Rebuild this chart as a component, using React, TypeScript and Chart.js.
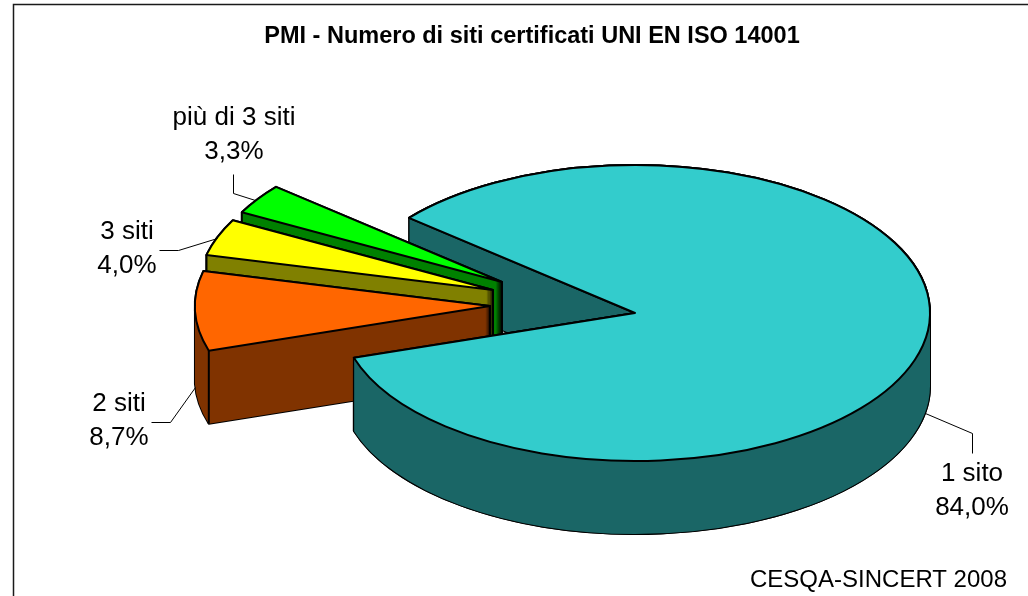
import React, { useEffect, useRef } from "react";
import { Chart, registerables } from "chart.js";

Chart.register(...registerables);

const titleText = "PMI - Numero di siti certificati UNI EN ISO 14001";
const sourceText = "CESQA-SINCERT 2008";
const categories = ["1 sito", "2 siti", "3 siti", "più di 3 siti"];
const shares = [84.0, 8.7, 4.0, 3.3];

const topColors = ["#33CCCC", "#FF6600", "#FFFF00", "#00FF00"];
const wallColors = ["#1A6666", "#803300", "#808000", "#008000"];

const FONT = '"Liberation Sans", Arial, sans-serif';

// Projection of the flat pie onto the tilted 3D view
const view = { cx: 635, cy: 313, rx: 295, ry: 148, depth: 73 };
const explode = [
  [0, 0],
  [-145, -7],
  [-142, -23],
  [-133, -31],
];
const labelBoxes = [
  { x: 972, y1: 474, y2: 508 },
  { x: 119, y1: 404, y2: 438 },
  { x: 127, y1: 232, y2: 266 },
  { x: 234, y1: 118, y2: 152 },
];
const leaders = [
  [[925, 413], [972, 433], [972, 453]],
  [[195, 387], [170, 422], [151, 422]],
  [[217, 238], [178, 250], [159, 250]],
  [[255, 200], [233, 193], [233, 174]],
];

function percent(v: number) {
  return v.toFixed(1).replace(".", ",") + "%";
}

const pie3d = {
  id: "pie3d",
  beforeDraw(chart: any) {
    const ctx = chart.ctx;
    ctx.save();
    ctx.fillStyle = "#FFFFFF";
    ctx.fillRect(0, 0, chart.width, chart.height);
    ctx.strokeStyle = "#1a1a1a";
    ctx.lineWidth = 1.5;
    ctx.strokeRect(13.5, 4.5, 1200, 800);
    ctx.restore();
  },
  beforeDatasetsDraw(chart: any) {
    const ctx = chart.ctx;
    const arcs = chart.getDatasetMeta(0).data;

    const place = (arc: any, i: number, dy: number) => {
      const sx = view.rx / arc.outerRadius;
      const sy = view.ry / arc.outerRadius;
      ctx.translate(view.cx + explode[i][0], view.cy + explode[i][1] + dy);
      ctx.scale(sx, sy);
      ctx.translate(-arc.x, -arc.y);
    };
    const addSector = (arc: any, i: number, dy: number, from: number, to: number) => {
      ctx.save();
      place(arc, i, dy);
      ctx.moveTo(arc.x, arc.y);
      ctx.arc(arc.x, arc.y, arc.outerRadius, from, to);
      ctx.closePath();
      ctx.restore();
    };
    const sweep = (arc: any, i: number, from: number, to: number) => {
      ctx.beginPath();
      for (let dy = view.depth; dy >= 0; dy--) addSector(arc, i, dy, from, to);
      ctx.stroke();
      ctx.fillStyle = wallColors[i];
      ctx.fill("nonzero");
    };
    const edge = (arc: any, i: number, angle: number | null) => {
      const sx = view.rx / arc.outerRadius;
      const sy = view.ry / arc.outerRadius;
      const r = angle === null ? 0 : arc.outerRadius;
      const a = angle === null ? 0 : angle;
      const px = view.cx + explode[i][0] + Math.cos(a) * r * sx;
      const py = view.cy + explode[i][1] + Math.sin(a) * r * sy;
      ctx.beginPath();
      ctx.moveTo(px, py);
      ctx.lineTo(px, py + view.depth);
      ctx.stroke();
    };
    const outline = (arc: any, i: number) => {
      ctx.beginPath();
      addSector(arc, i, 0, arc.startAngle, arc.endAngle);
      ctx.stroke();
    };
    const top = (arc: any, i: number) => {
      ctx.save();
      place(arc, i, 0);
      arc.draw(ctx);
      ctx.restore();
      outline(arc, i);
    };

    ctx.save();
    ctx.strokeStyle = "#000000";
    ctx.lineWidth = 2;
    ctx.lineJoin = "round";

    // back part of the big slice: its cut face stays behind the small slices
    sweep(arcs[0], 0, arcs[0].startAngle, arcs[0].endAngle);
    outline(arcs[0], 0);

    // exploded slices, back to front
    for (let i = arcs.length - 1; i >= 1; i--) {
      const arc = arcs[i];
      sweep(arc, i, arc.startAngle, arc.endAngle);
      edge(arc, i, null);
      edge(arc, i, arc.startAngle);
      top(arc, i);
    }

    // front wall and top of the big slice
    sweep(arcs[0], 0, 0, arcs[0].endAngle);
    top(arcs[0], 0);
    ctx.restore();
    return false;
  },
  afterDraw(chart: any) {
    const ctx = chart.ctx;
    ctx.save();
    ctx.strokeStyle = "#000000";
    ctx.lineWidth = 1;
    leaders.forEach((pts) => {
      ctx.beginPath();
      pts.forEach(([x, y], k) => (k ? ctx.lineTo(x + 0.5, y + 0.5) : ctx.moveTo(x + 0.5, y + 0.5)));
      ctx.stroke();
    });
    ctx.fillStyle = "#000000";
    ctx.font = `26px ${FONT}`;
    ctx.textAlign = "center";
    ctx.textBaseline = "middle";
    categories.forEach((c, i) => {
      const b = labelBoxes[i];
      ctx.fillText(c, b.x, b.y1);
      ctx.fillText(percent(shares[i]), b.x, b.y2);
    });
    ctx.font = `24px ${FONT}`;
    ctx.textAlign = "right";
    ctx.fillText(sourceText, 1007, 580);
    ctx.restore();
  },
};

export default function App() {
  const ref = useRef<HTMLCanvasElement>(null);
  useEffect(() => {
    const chart = new Chart(ref.current as HTMLCanvasElement, {
      type: "pie",
      data: {
        labels: categories,
        datasets: [
          {
            data: shares,
            backgroundColor: topColors,
            borderWidth: 0,
          },
        ],
      },
      options: {
        responsive: false,
        animation: false,
        rotation: -50,
        layout: { padding: { left: 36 } },
        plugins: {
          legend: { display: false },
          tooltip: { enabled: false },
          title: {
            display: true,
            text: titleText,
            color: "#000000",
            font: { family: FONT, size: 23.5, weight: "bold" },
            padding: { top: 22, bottom: 8 },
          },
        },
      },
      plugins: [pie3d],
    } as any);
    return () => chart.destroy();
  }, []);
  return (
    <canvas
      ref={ref}
      width={1028}
      height={596}
      style={{ position: "fixed", left: 0, top: 0, display: "block" }}
    />
  );
}
